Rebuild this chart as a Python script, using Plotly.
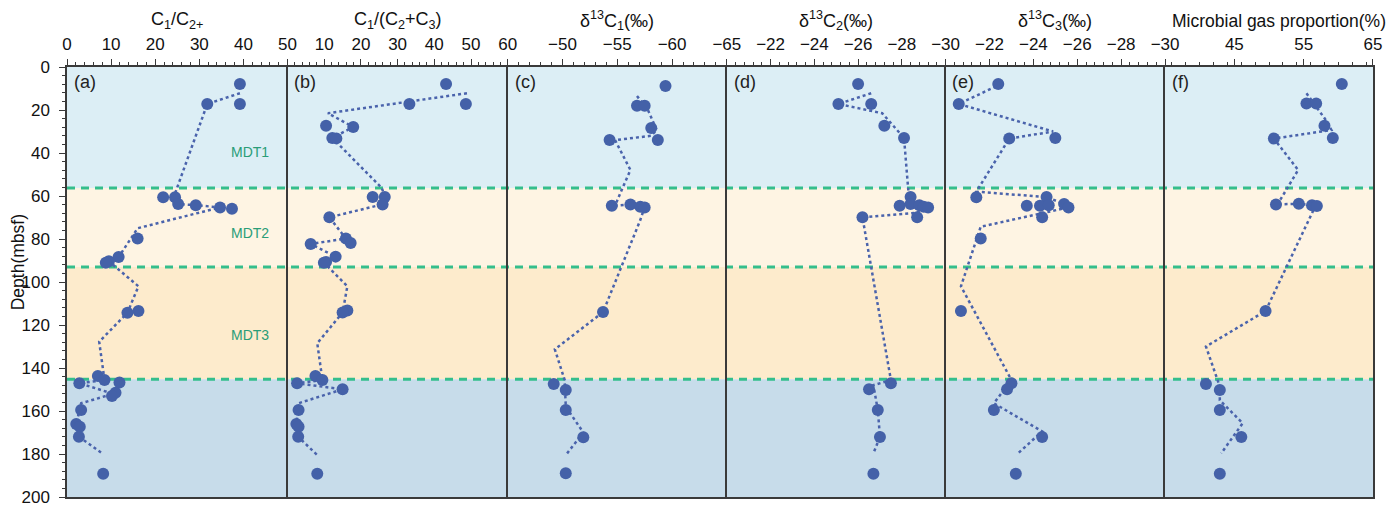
import plotly.graph_objects as go
from plotly.subplots import make_subplots

# ---------------- data ----------------
# Panel (a) C1/C2+
a_depth = [7.9, 17.2, 17.2, 60.6, 60.6, 63.7, 64.3, 65.3, 65.9, 79.8, 88.4, 90.4, 91.0,
           113.5, 114.3, 143.7, 145.6, 147.1, 146.7, 151.5, 153.0, 159.5, 166.0, 167.3, 172.0, 189.2]
a_val = [39.2, 39.2, 31.8, 21.8, 24.5, 25.2, 29.2, 34.7, 37.4, 16.0, 11.7, 9.5, 8.8,
         16.2, 13.7, 7.0, 8.5, 2.8, 11.9, 11.0, 10.2, 3.2, 2.1, 2.9, 2.7, 8.2]
ta_depth = [12.2, 17.2, 58.8, 63.7, 64.3, 65.3, 75.0, 88.4, 90.4, 102.0, 114.3, 127.8,
            145.6, 147.1, 152.0, 156.4, 166.0, 172.0, 180.0]
ta_val = [39.2, 31.8, 24.5, 25.2, 29.2, 34.7, 16.0, 11.7, 9.5, 16.2, 13.7, 7.3,
          8.5, 2.8, 10.5, 3.2, 2.1, 2.7, 8.2]

# Panel (b) C1/(C2+C3)
b_depth = [7.9, 17.2, 17.2, 27.3, 27.9, 33.0, 33.2, 60.5, 60.5, 63.9, 69.9, 79.8, 81.9, 82.3,
           88.2, 90.7, 91.0, 113.3, 114.2, 143.7, 145.6, 147.1, 149.9, 159.5, 166.0, 167.3, 172.0, 189.2]
b_val = [43.2, 33.2, 48.6, 10.5, 17.9, 12.2, 13.3, 23.2, 26.5, 25.9, 11.4, 15.9, 17.2, 6.3,
         13.1, 10.5, 9.9, 16.3, 15.0, 7.6, 9.5, 2.6, 15.0, 3.0, 2.4, 3.0, 2.9, 8.1]
tb_depth = [12.2, 21.5, 27.9, 33.0, 56.3, 60.5, 63.9, 69.9, 79.8, 82.3, 88.2, 91.0, 102.0,
            114.2, 128.5, 145.6, 147.1, 149.9, 156.4, 166.0, 172.0, 180.5]
tb_val = [48.9, 11.0, 17.9, 12.2, 25.7, 26.5, 25.9, 11.4, 15.9, 6.3, 13.1, 9.9, 16.3,
          15.0, 8.1, 9.5, 2.6, 15.0, 3.0, 2.4, 2.9, 8.1]

# Panel (c) d13C1
c_depth = [8.8, 18.0, 18.0, 28.4, 34.0, 34.0, 64.5, 64.0, 65.0, 65.4, 114.0, 147.4, 150.2, 159.5, 172.2, 189.0]
c_val = [-59.4, -56.8, -57.5, -58.1, -58.7, -54.3, -54.5, -56.2, -57.1, -57.5, -53.7, -49.2, -50.3, -50.3, -51.9, -50.3]
tc_depth = [13.5, 20.0, 29.3, 32.0, 34.0, 47.9, 57.2, 64.5, 64.0, 65.0, 71.2, 114.0, 131.3, 145.6, 158.0, 170.0, 180.5]
tc_val = [-56.8, -57.8, -58.6, -58.1, -54.8, -56.2, -55.4, -54.8, -56.2, -57.5, -57.1, -53.7, -49.3, -50.2, -50.3, -51.9, -50.3]

# Panel (d) d13C2
d_depth = [7.9, 17.2, 17.2, 27.3, 33.0, 60.5, 64.5, 63.7, 64.3, 65.0, 65.3, 69.9, 69.9, 147.1, 149.9, 159.5, 172.1, 189.2]
d_val = [-26.0, -25.1, -26.6, -27.2, -28.1, -28.4, -27.9, -28.4, -28.8, -29.0, -29.2, -28.7, -26.2, -27.5, -26.5, -26.9, -27.0, -26.7]
td_depth = [12.2, 17.2, 21.5, 33.0, 58.0, 63.7, 64.3, 65.0, 67.8, 69.9, 145.6, 148.0, 159.5, 172.0, 179.7]
td_val = [-26.6, -25.1, -27.1, -28.1, -28.3, -28.4, -28.8, -29.0, -28.7, -26.2, -27.5, -26.7, -26.9, -27.0, -26.7]

# Panel (e) d13C3
e_depth = [7.9, 17.2, 33.0, 33.3, 60.6, 60.5, 64.5, 64.5, 64.3, 63.7, 65.3, 69.9, 79.8, 113.5, 147.1, 149.9, 159.5, 172.1, 189.2]
e_val = [-22.4, -20.6, -25.0, -22.9, -21.4, -24.6, -23.7, -24.3, -24.7, -25.4, -25.6, -24.4, -21.6, -20.7, -23.0, -22.8, -22.2, -24.4, -23.2]
te_depth = [9.0, 17.2, 30.0, 33.3, 58.0, 60.5, 63.7, 65.3, 74.3, 102.0, 145.6, 156.4, 169.5, 179.7]
te_val = [-22.3, -20.6, -24.9, -22.9, -21.4, -24.6, -25.4, -25.6, -21.6, -20.7, -23.0, -22.2, -24.4, -23.3]

# Panel (f) microbial gas proportion
f_depth = [7.9, 17.0, 17.0, 27.3, 33.0, 33.3, 63.9, 63.6, 64.3, 64.6, 113.5, 147.4, 150.2, 159.5, 172.1, 189.2]
f_val = [60.5, 55.4, 56.8, 58.0, 59.2, 50.7, 51.0, 54.3, 56.2, 56.9, 49.5, 40.9, 42.9, 42.9, 46.0, 42.9]
tf_depth = [12.2, 24.7, 29.3, 33.3, 47.9, 61.9, 63.9, 63.6, 64.6, 113.5, 130.0, 148.6, 155.0, 165.7, 179.7]
tf_val = [55.4, 58.2, 59.0, 50.7, 54.2, 51.6, 51.0, 54.3, 56.7, 49.5, 40.9, 42.9, 42.9, 46.2, 43.1]

panel_titles = ["C<sub>1</sub>/C<sub>2+</sub>", "C<sub>1</sub>/(C<sub>2</sub>+C<sub>3</sub>)",
                "δ<sup>13</sup>C<sub>1</sub>(‰)", "δ<sup>13</sup>C<sub>2</sub>(‰)",
                "δ<sup>13</sup>C<sub>3</sub>(‰)", "Microbial gas proportion(%)"]
panel_letters = ["(a)", "(b)", "(c)", "(d)", "(e)", "(f)"]
x_ranges = [[0, 50], [0, 60], [-45, -65], [-20, -30], [-20, -30], [35, 65]]
x_tickvals = [[0, 10, 20, 30, 40, 50], [0, 10, 20, 30, 40, 50, 60], [-45, -50, -55, -60, -65],
              [-20, -22, -24, -26, -28, -30], [-20, -22, -24, -26, -28, -30], [35, 45, 55, 65]]
x_ticktext = [["0", "10", "20", "30", "40", "50"], ["", "10", "20", "30", "40", "50", "60"],
              ["", "−50", "−55", "−60", "−65"], ["", "−22", "−24", "−26", "−28", "−30"],
              ["", "−22", "−24", "−26", "−28", "−30"], ["", "45", "55", "65"]]
x_minor = [2, 2, 1, 0.4, 0.4, 2]

zone_bounds = [0, 56.3, 93.0, 145.2, 200]
zone_colors = ["#DCEEF5", "#FEF4E3", "#FDEBCC", "#C7DCEA"]
zone_labels = ["MDT1", "MDT2", "MDT3"]
zone_label_depth = [39.5, 77.0, 124.5]

points = [(a_val, a_depth), (b_val, b_depth), (c_val, c_depth), (d_val, d_depth), (e_val, e_depth), (f_val, f_depth)]
trends = [(ta_val, ta_depth), (tb_val, tb_depth), (tc_val, tc_depth), (td_val, td_depth), (te_val, te_depth), (tf_val, tf_depth)]

# ---------------- figure ----------------
# the page body has an 8px margin, so the figure starts 8px in from the page corner
OFF = 8
W, H = 1396 - OFF, 507 - OFF
edges_px = [66.7, 287.3, 507.5, 726.7, 945.5, 1165.0, 1373.0]  # page px of panel borders
plot_top, plot_bottom = 67, 497                                 # page px
L = edges_px[0] - OFF
R = W - (edges_px[-1] - OFF)
T = plot_top - OFF
B = H - (plot_bottom - OFF)
pw = edges_px[-1] - edges_px[0]
ph = plot_bottom - plot_top
domains = [[(edges_px[i] - edges_px[0]) / pw, (edges_px[i + 1] - edges_px[0]) / pw] for i in range(6)]


def px_x(p):
    return (p - edges_px[0]) / pw


def px_y(p):
    return (plot_bottom - p) / ph


fig = make_subplots(rows=1, cols=6, shared_yaxes=True, horizontal_spacing=0)

MARK = "#4461A8"
LINE = "#4A63AC"
AX = "#3a3a3a"
FONT = "Arial, Liberation Sans, sans-serif"

for i in range(6):
    tv, td = trends[i]
    fig.add_trace(go.Scatter(x=tv, y=td, mode="lines", line=dict(color=LINE, width=2.5, dash="dot"),
                             showlegend=False, hoverinfo="skip"), row=1, col=i + 1)
    pv, pd_ = points[i]
    fig.add_trace(go.Scatter(x=pv, y=pd_, mode="markers", marker=dict(color=MARK, size=12),
                             showlegend=False), row=1, col=i + 1)

for i in range(6):
    key = "xaxis" if i == 0 else f"xaxis{i + 1}"
    fig.layout[key].update(
        domain=domains[i], side="top", range=x_ranges[i], automargin=False,
        tickmode="array", tickvals=x_tickvals[i], ticktext=x_ticktext[i],
        ticks="outside", ticklen=6, tickwidth=1.2, tickcolor=AX,
        minor=dict(ticks="outside", ticklen=3, tickwidth=1, tickcolor=AX, dtick=x_minor[i], tick0=0),
        showline=True, linecolor=AX, linewidth=1.5, mirror=True,
        showgrid=False, zeroline=False,
        tickfont=dict(family=FONT, size=17, color="#111"), ticklabelstandoff=2,
    )
    ykey = "yaxis" if i == 0 else f"yaxis{i + 1}"
    fig.layout[ykey].update(
        range=[200, 0], showline=True, linecolor=AX, linewidth=1.5, mirror=(i == 5),
        showgrid=False, zeroline=False, automargin=False,
    )

fig.layout.yaxis.update(
    tickmode="linear", tick0=0, dtick=20, ticks="outside", ticklen=6, tickwidth=1.2, tickcolor=AX,
    minor=dict(ticks="outside", ticklen=3, tickwidth=1, tickcolor=AX, dtick=4),
    tickfont=dict(family=FONT, size=17, color="#111"), ticklabelstandoff=6,
)

shapes = []
for k in range(4):
    shapes.append(dict(type="rect", xref="paper", yref="y", x0=0, x1=1,
                       y0=zone_bounds[k], y1=zone_bounds[k + 1],
                       fillcolor=zone_colors[k], line=dict(width=0), layer="below"))
for k in range(1, 4):
    shapes.append(dict(type="line", xref="paper", yref="y", x0=0, x1=1,
                       y0=zone_bounds[k], y1=zone_bounds[k],
                       line=dict(color="#34BE8C", width=3, dash="8px,6px"), layer="below"))

annotations = []
for i in range(6):
    cx = (domains[i][0] + domains[i][1]) / 2
    if i == 5:
        cx = px_x(1279)
    annotations.append(dict(text=panel_titles[i], xref="paper", yref="paper", x=cx,
                            y=px_y(21), xanchor="center", yanchor="middle",
                            showarrow=False,
                            font=dict(family=FONT, size=17.5 if i == 5 else 18, color="#111")))
    xr = "x domain" if i == 0 else f"x{i + 1} domain"
    annotations.append(dict(text=panel_letters[i], xref=xr, yref="y domain", x=0.022, y=0.965,
                            xanchor="left", yanchor="middle", showarrow=False,
                            font=dict(family=FONT, size=18, color="#222")))
for k in range(3):
    annotations.append(dict(text=zone_labels[k], xref="x", yref="y", x=41.5, y=zone_label_depth[k],
                            xanchor="center", yanchor="middle", showarrow=False,
                            font=dict(family=FONT, size=14, color="#2A9D78")))
annotations.append(dict(text="Depth(mbsf)", xref="paper", yref="paper",
                        x=px_x(18), y=px_y(262), textangle=-90,
                        xanchor="center", yanchor="middle", showarrow=False,
                        font=dict(family=FONT, size=17.5, color="#111")))

fig.update_layout(
    width=W, height=H, margin=dict(l=L, r=R, t=T, b=B),
    paper_bgcolor="white", plot_bgcolor="white",
    shapes=shapes, annotations=annotations, showlegend=False,
)

fig.write_html("out.html")
